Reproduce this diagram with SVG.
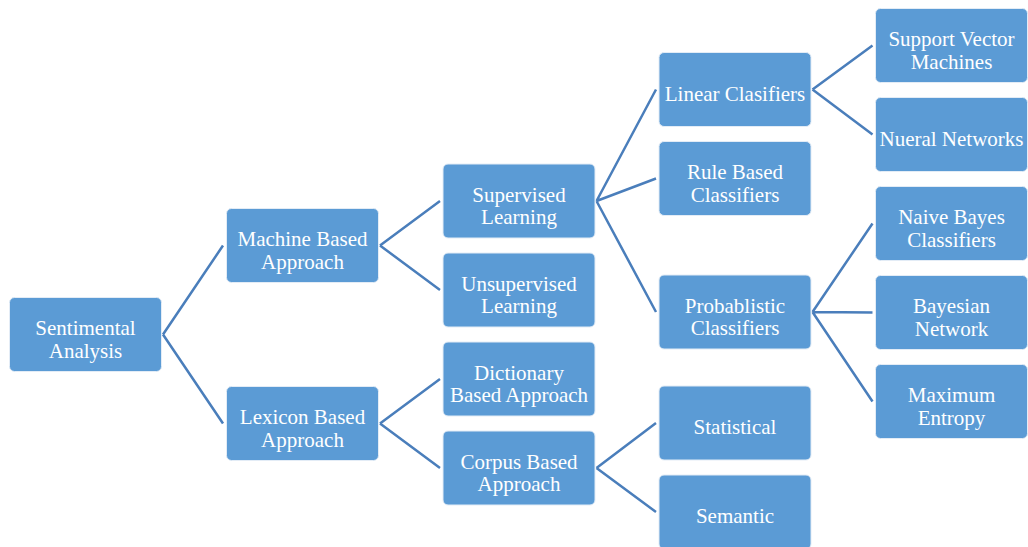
<svg xmlns="http://www.w3.org/2000/svg" width="1028" height="547" viewBox="0 0 1028 547">
  <style>
    .box { fill: #5B9BD5; stroke: #E3ECF6; stroke-width: 1; }
    .lbl { fill: #FFFFFF; font-family: "Liberation Serif", "Times New Roman", serif; font-size: 21px; text-anchor: middle; }
    .link { fill: none; stroke: #4A7EBB; stroke-width: 2.5; }
  </style>
  <rect width="1028" height="547" fill="#FFFFFF"/>

  <!-- connectors: parent right-centre to child left-centre -->
  <g id="connectors" class="link">
    <path d="M163,334.5 L223,245.5 M163,334.5 L223,423.5"/>
    <path d="M380,245.5 L440,201 M380,245.5 L440,290"/>
    <path d="M380,423.5 L440,379 M380,423.5 L440,468"/>
    <path d="M596.5,201 L656,89.5 M596.5,201 L656,178.5 M596.5,201 L656,312"/>
    <path d="M596.5,468 L656,423 M596.5,468 L656,512"/>
    <path d="M812.5,89.5 L872.5,45.5 M812.5,89.5 L872.5,134.5"/>
    <path d="M812.5,312 L872.5,223.5 M812.5,312 L872.5,312.5 M812.5,312 L872.5,401.5"/>
  </g>

  <!-- level 1 -->
  <g id="sentimental-analysis">
    <rect class="box" x="9.5" y="297.5" width="152" height="74" rx="5"/>
    <text class="lbl" x="85.5" y="335">Sentimental</text>
    <text class="lbl" x="85.5" y="357.5">Analysis</text>
  </g>

  <!-- level 2 -->
  <g id="machine-based">
    <rect class="box" x="226.5" y="208.5" width="152" height="74" rx="5"/>
    <text class="lbl" x="302.5" y="246">Machine Based</text>
    <text class="lbl" x="302.5" y="268.5">Approach</text>
  </g>
  <g id="lexicon-based">
    <rect class="box" x="226.5" y="386.5" width="152" height="74" rx="5"/>
    <text class="lbl" x="302.5" y="424">Lexicon Based</text>
    <text class="lbl" x="302.5" y="446.5">Approach</text>
  </g>

  <!-- level 3 -->
  <g id="supervised">
    <rect class="box" x="443" y="164" width="152" height="74" rx="5"/>
    <text class="lbl" x="519" y="201.5">Supervised</text>
    <text class="lbl" x="519" y="224">Learning</text>
  </g>
  <g id="unsupervised">
    <rect class="box" x="443" y="253" width="152" height="74" rx="5"/>
    <text class="lbl" x="519" y="290.5">Unsupervised</text>
    <text class="lbl" x="519" y="313">Learning</text>
  </g>
  <g id="dictionary-based">
    <rect class="box" x="443" y="342" width="152" height="74" rx="5"/>
    <text class="lbl" x="519" y="379.5">Dictionary</text>
    <text class="lbl" x="519" y="402">Based Approach</text>
  </g>
  <g id="corpus-based">
    <rect class="box" x="443" y="431" width="152" height="74" rx="5"/>
    <text class="lbl" x="519" y="468.5">Corpus Based</text>
    <text class="lbl" x="519" y="491">Approach</text>
  </g>

  <!-- level 4 -->
  <g id="linear-classifiers">
    <rect class="box" x="659" y="52.5" width="152" height="74" rx="5"/>
    <text class="lbl" x="735" y="100.5">Linear Clasifiers</text>
  </g>
  <g id="rule-based-classifiers">
    <rect class="box" x="659" y="141.5" width="152" height="74" rx="5"/>
    <text class="lbl" x="735" y="179">Rule Based</text>
    <text class="lbl" x="735" y="201.5">Classifiers</text>
  </g>
  <g id="probabilistic-classifiers">
    <rect class="box" x="659" y="275" width="152" height="74" rx="5"/>
    <text class="lbl" x="735" y="312.5">Probablistic</text>
    <text class="lbl" x="735" y="335">Classifiers</text>
  </g>
  <g id="statistical">
    <rect class="box" x="659" y="386" width="152" height="74" rx="5"/>
    <text class="lbl" x="735" y="434">Statistical</text>
  </g>
  <g id="semantic">
    <rect class="box" x="659" y="475" width="152" height="74" rx="5"/>
    <text class="lbl" x="735" y="523">Semantic</text>
  </g>

  <!-- level 5 -->
  <g id="support-vector-machines">
    <rect class="box" x="875.5" y="8.5" width="152" height="74" rx="5"/>
    <text class="lbl" x="951.5" y="46">Support Vector</text>
    <text class="lbl" x="951.5" y="68.5">Machines</text>
  </g>
  <g id="neural-networks">
    <rect class="box" x="875.5" y="97.5" width="152" height="74" rx="5"/>
    <text class="lbl" x="951.5" y="145.5">Nueral Networks</text>
  </g>
  <g id="naive-bayes">
    <rect class="box" x="875.5" y="186.5" width="152" height="74" rx="5"/>
    <text class="lbl" x="951.5" y="224">Naive Bayes</text>
    <text class="lbl" x="951.5" y="246.5">Classifiers</text>
  </g>
  <g id="bayesian-network">
    <rect class="box" x="875.5" y="275.5" width="152" height="74" rx="5"/>
    <text class="lbl" x="951.5" y="313">Bayesian</text>
    <text class="lbl" x="951.5" y="335.5">Network</text>
  </g>
  <g id="maximum-entropy">
    <rect class="box" x="875.5" y="364.5" width="152" height="74" rx="5"/>
    <text class="lbl" x="951.5" y="402">Maximum</text>
    <text class="lbl" x="951.5" y="424.5">Entropy</text>
  </g>
</svg>
